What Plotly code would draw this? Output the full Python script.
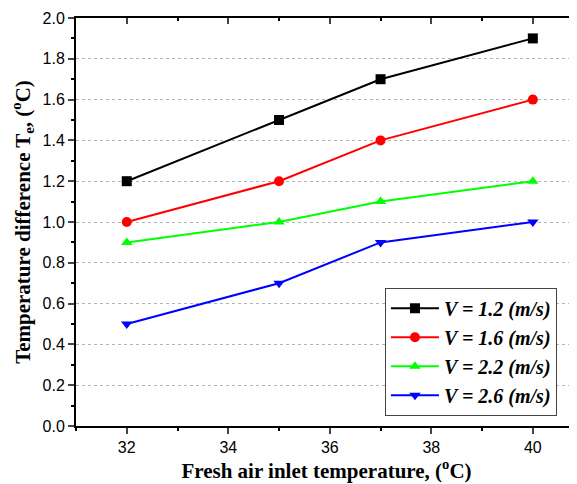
import plotly.graph_objects as go

temps = [32, 35, 37, 40]
v12 = [1.2, 1.5, 1.7, 1.9]
v16 = [1.0, 1.2, 1.4, 1.6]
v22 = [0.9, 1.0, 1.1, 1.2]
v26 = [0.5, 0.7, 0.9, 1.0]
names = ["V = 1.2 (m/s)", "V = 1.6 (m/s)", "V = 2.2 (m/s)", "V = 2.6 (m/s)"]
colors = ["#000000", "#FF0000", "#00FF00", "#0000FF"]
symbols = ["square", "circle", "triangle-up", "triangle-down"]
xticks = [32, 34, 36, 38, 40]
xminor = [31, 33, 35, 37, 39]
yticks = [0, 0.2, 0.4, 0.6, 0.8, 1.0, 1.2, 1.4, 1.6, 1.8, 2.0]

fig = go.Figure()
for name, ys, c, s in zip(names, [v12, v16, v22, v26], colors, symbols):
    fig.add_trace(go.Scatter(
        x=temps, y=ys, mode="lines+markers", name=name,
        line=dict(color=c, width=2),
        marker=dict(symbol=s, size=10, color=c),
    ))
# invisible trace so the top axis is drawn
fig.add_trace(go.Scatter(x=[temps[0]], y=[v12[0]], xaxis="x2", mode="markers",
                         marker=dict(opacity=0), showlegend=False, hoverinfo="skip"))

xr = [31, 40.87]
serif = "Liberation Serif, Times New Roman, serif"
sans = "Liberation Sans, Arial, sans-serif"
fig.update_layout(
    width=569, height=476,
    margin=dict(l=68, r=0, t=10, b=58),
    paper_bgcolor="white", plot_bgcolor="white",
    font=dict(family=sans, size=16, color="black"),
    xaxis=dict(
        range=xr, tickvals=xticks, ticks="outside", ticklen=6, tickwidth=1.5,
        showline=True, linecolor="black", linewidth=2, showgrid=False, zeroline=False,
        minor=dict(tickvals=xminor, ticks="outside", ticklen=3, tickwidth=1.5, tickcolor="black"),
        tickfont=dict(family=sans, size=16),
        title=dict(text="Fresh air inlet temperature, (<sup>o</sup>C)",
                   font=dict(family=serif, size=21, weight="bold"),
                   standoff=4),
    ),
    xaxis2=dict(
        range=xr, overlaying="x", side="top", anchor="y",
        tickvals=xticks, ticks="inside", ticklen=6, tickwidth=1.5,
        showticklabels=False, showline=True, linecolor="black", linewidth=2,
        showgrid=False, zeroline=False,
        minor=dict(tickvals=xminor, ticks="inside", ticklen=3, tickwidth=1.5, tickcolor="black"),
    ),
    yaxis=dict(
        range=[0, 2.0], tickvals=yticks,
        tickformat=".1f", ticks="outside", ticklen=6, tickwidth=1.5,
        showline=True, linecolor="black", linewidth=2, zeroline=False,
        showgrid=True, gridcolor="#b4b4b4", griddash="dot", gridwidth=1,
        minor=dict(dtick=0.1, ticks="outside", ticklen=3, tickwidth=1.5, tickcolor="black", showgrid=False),
        tickfont=dict(family=sans, size=16),
        title=dict(text="Temperature difference T<sub>e</sub>, (<sup>o</sup>C)",
                   font=dict(family=serif, size=21, weight="bold"),
                   standoff=8),
    ),
    legend=dict(
        x=0.96, y=0.025, xanchor="right", yanchor="bottom",
        bgcolor="white", bordercolor="#444444", borderwidth=1,
        font=dict(family=serif, size=20, weight="bold", style="italic"),
        itemwidth=48, tracegroupgap=0,
    ),
    showlegend=True,
)

fig.write_html("out.html")
